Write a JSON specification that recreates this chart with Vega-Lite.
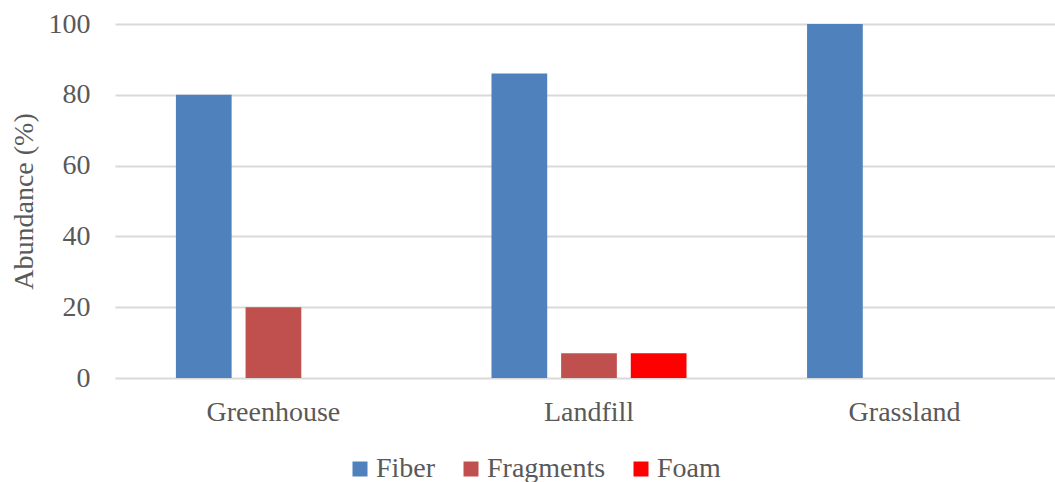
{
  "$schema": "https://vega.github.io/schema/vega-lite/v6.json",
  "width": 940,
  "height": 354,
  "autosize": "none",
  "padding": {"left": 115, "top": 24, "right": 0, "bottom": 104},
  "background": "white",
  "config": {
    "font": "Liberation Serif",
    "view": {"stroke": null},
    "style": {
      "guide-label": {"font": "Liberation Serif", "fill": "#595959", "fontSize": 28},
      "guide-title": {"font": "Liberation Serif", "fill": "#595959", "fontSize": 28}
    },
    "axis": {"labelFont": "Liberation Serif", "titleFont": "Liberation Serif", "labelColor": "#595959", "titleColor": "#595959", "labelFontSize": 28, "titleFontSize": 28, "titleFontWeight": "normal"},
    "legend": {"labelFont": "Liberation Serif", "labelColor": "#595959", "labelFontSize": 28}
  },
  "data": {
    "values": [
      {"site": "Greenhouse", "type": "Fiber", "abundance": 80},
      {"site": "Greenhouse", "type": "Fragments", "abundance": 20},
      {"site": "Greenhouse", "type": "Foam", "abundance": 0},
      {"site": "Landfill", "type": "Fiber", "abundance": 86},
      {"site": "Landfill", "type": "Fragments", "abundance": 7},
      {"site": "Landfill", "type": "Foam", "abundance": 7},
      {"site": "Grassland", "type": "Fiber", "abundance": 100},
      {"site": "Grassland", "type": "Fragments", "abundance": 0},
      {"site": "Grassland", "type": "Foam", "abundance": 0}
    ]
  },
  "mark": {"type": "bar"},
  "encoding": {
    "x": {
      "field": "site",
      "type": "nominal",
      "sort": ["Greenhouse", "Landfill", "Grassland"],
      "scale": {"range": [0, 948], "paddingInner": 0.382, "paddingOuter": 0.193},
      "axis": {"title": null, "labelAngle": 0, "ticks": false, "tickSize": 0, "domain": false, "labelPadding": 20}
    },
    "xOffset": {
      "field": "type",
      "type": "nominal",
      "sort": ["Fiber", "Fragments", "Foam"],
      "scale": {"paddingInner": 0.2, "paddingOuter": 0}
    },
    "y": {
      "field": "abundance",
      "type": "quantitative",
      "scale": {"domain": [0, 100], "nice": false},
      "axis": {"title": "Abundance (%)", "values": [0, 20, 40, 60, 80, 100], "ticks": false, "tickSize": 0, "domain": false, "labelPadding": 25, "titlePadding": 10, "gridColor": "#D9D9D9", "gridWidth": 2}
    },
    "color": {
      "field": "type",
      "type": "nominal",
      "sort": ["Fiber", "Fragments", "Foam"],
      "scale": {"domain": ["Fiber", "Fragments", "Foam"], "range": ["#4F81BD", "#C0504D", "#FF0000"]},
      "legend": {"title": null, "orient": "none", "direction": "horizontal", "legendX": 231, "legendY": 431, "labelFont": "Liberation Serif", "labelFontSize": 28, "labelColor": "#595959", "symbolType": "square", "symbolSize": 225, "symbolStrokeWidth": 0, "symbolOpacity": 1, "labelOffset": 2, "columnPadding": 21}
    }
  }
}
